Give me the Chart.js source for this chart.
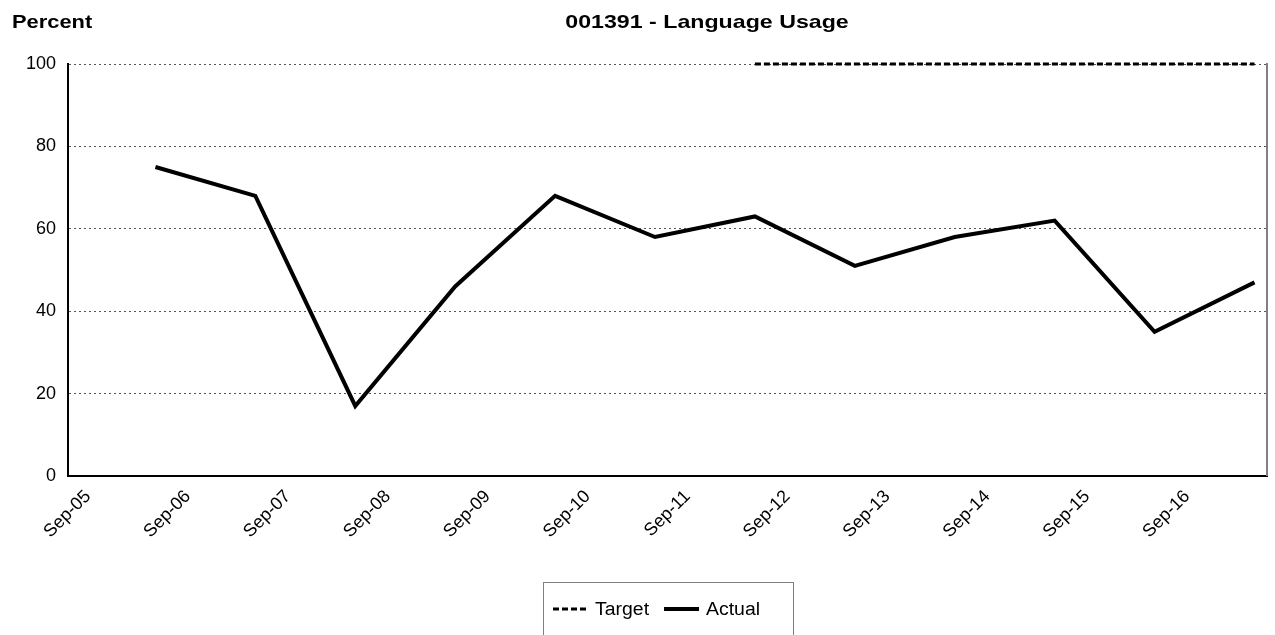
<!DOCTYPE html>
<html>
<head>
<meta charset="utf-8">
<script src="https://cdn.jsdelivr.net/npm/chart.js@4"></script>
<style>
  html, body { margin: 0; padding: 0; background: #fff; }
  #wrap { width: 1275px; height: 635px; }
</style>
</head>
<body>
<div id="wrap"><canvas id="usageChart" width="1275" height="635"></canvas></div>
<script>
// data===========

const yearLabels = ["Sep-05", "Sep-06", "Sep-07", "Sep-08", "Sep-09", "Sep-10",
  "Sep-11", "Sep-12", "Sep-13", "Sep-14", "Sep-15", "Sep-16"];
const periods = ["Jul-06", "Jul-07", "Jul-08", "Jul-09", "Jul-10", "Jul-11",
  "Jul-12", "Jul-13", "Jul-14", "Jul-15", "Jul-16", "Jul-17"];
const actualValues = [75, 68, 17, 46, 68, 58, 63, 51, 58, 62, 35, 47];
const targetValues = [null, null, null, null, null, null, 100, 100, 100, 100, 100, 100];
const yTicks = [0, 20, 40, 60, 80, 100];

const chartTitle = "001391 - Language Usage";
const axisTitle = "Percent";

// end data===========

const monthNames = ["Jan", "Feb", "Mar", "Apr", "May", "Jun",
  "Jul", "Aug", "Sep", "Oct", "Nov", "Dec"];

// position in years after Sep-05, middle of the month
function toAxisPos(p) {
  const parts = p.split("-");
  const months = (Number(parts[1]) - 5) * 12 + monthNames.indexOf(parts[0]) - 8;
  return (months + 0.5) / 12;
}

const actualPoints = periods.map((p, i) => ({ x: toAxisPos(p), y: actualValues[i] }));
const targetPoints = periods.map((p, i) => ({ x: toAxisPos(p), y: targetValues[i] }));

const FONT = "'Liberation Sans', Arial, sans-serif";

// titles, right frame line and the boxed legend
const framePlugin = {
  id: "frame",
  afterDraw(chart) {
    const ctx = chart.ctx;
    const area = chart.chartArea;
    ctx.save();

    ctx.strokeStyle = "#808080";
    ctx.lineWidth = 2;
    ctx.beginPath();
    ctx.moveTo(area.right, area.top - 1);
    ctx.lineTo(area.right, area.bottom);
    ctx.stroke();

    ctx.fillStyle = "#000";
    ctx.font = "bold 19px " + FONT;
    ctx.textBaseline = "middle";
    ctx.save();
    ctx.translate(12, 23);
    ctx.scale(1.15, 1);
    ctx.textAlign = "left";
    ctx.fillText(axisTitle, 0, 0);
    ctx.restore();
    ctx.save();
    ctx.translate(707, 23);
    ctx.scale(1.22, 1);
    ctx.textAlign = "center";
    ctx.fillText(chartTitle, 0, 0);
    ctx.restore();

    // legend
    const boxW = 250;
    const boxLeft = Math.round((area.left + area.right) / 2 - boxW / 2);
    const boxTop = 582;
    ctx.strokeStyle = "#808080";
    ctx.lineWidth = 1;
    ctx.strokeRect(boxLeft + 0.5, boxTop + 0.5, boxW, 100);

    ctx.font = "18px " + FONT;
    ctx.textAlign = "left";
    const midY = boxTop + 27;
    const stretch = 1.08;
    let x = boxLeft + 10;
    chart.data.datasets.forEach((ds) => {
      ctx.strokeStyle = ds.borderColor;
      ctx.lineWidth = ds.borderWidth;
      ctx.setLineDash(ds.borderDash || []);
      ctx.beginPath();
      ctx.moveTo(x, midY);
      ctx.lineTo(x + 35, midY);
      ctx.stroke();
      ctx.setLineDash([]);
      ctx.fillStyle = "#000";
      ctx.save();
      ctx.translate(x + 42, midY + 1);
      ctx.scale(stretch, 1);
      ctx.fillText(ds.label, 0, 0);
      ctx.restore();
      x += 42 + ctx.measureText(ds.label).width * stretch + 15;
    });
    ctx.restore();
  }
};

const usage = document.getElementById("usageChart").getContext("2d");

const usageChart = new Chart(usage, {
  type: "line",
  data: {
    datasets: [
      {
        label: "Target",
        data: targetPoints,
        borderColor: "#000",
        backgroundColor: "#000",
        borderWidth: 3,
        borderDash: [6, 3],
        pointRadius: 0,
        clip: false,
      },
      {
        label: "Actual",
        data: actualPoints,
        borderColor: "#000",
        backgroundColor: "#000",
        borderWidth: 4,
        pointRadius: 0,
        borderJoinStyle: "miter",
        clip: false,
      },
    ],
  },
  options: {
    responsive: false,
    devicePixelRatio: 1,
    animation: false,
    layout: { padding: { top: 64, left: 0, right: 8, bottom: 43 } },
    scales: {
      x: {
        type: "linear",
        min: 0,
        max: 12,
        afterBuildTicks: (scale) => {
          scale.ticks = yearLabels.map((_, i) => ({ value: i }));
        },
        afterFit: (scale) => { scale.height = 116; },
        ticks: {
          autoSkip: false,
          maxRotation: 45,
          minRotation: 45,
          padding: 10,
          labelOffset: 20,
          color: "#000",
          font: { family: FONT, size: 18 },
          callback: (v) => yearLabels[v],
        },
        grid: { display: false, drawTicks: false },
        border: { display: true, color: "#000", width: 2 },
      },
      y: {
        min: 0,
        max: 100,
        afterBuildTicks: (scale) => {
          scale.ticks = yTicks.map((v) => ({ value: v }));
        },
        afterFit: (scale) => { scale.width = 68; },
        ticks: {
          padding: 12,
          color: "#000",
          font: { family: FONT, size: 18 },
        },
        grid: { color: "#555", lineWidth: 1, drawTicks: false },
        border: { display: true, color: "#000", width: 2, dash: [2, 3] },
      },
    },
    plugins: {
      title: { display: false },
      tooltip: { enabled: false },
      legend: { display: false },
    },
  },
  plugins: [framePlugin],
});
</script>
</body>
</html>
